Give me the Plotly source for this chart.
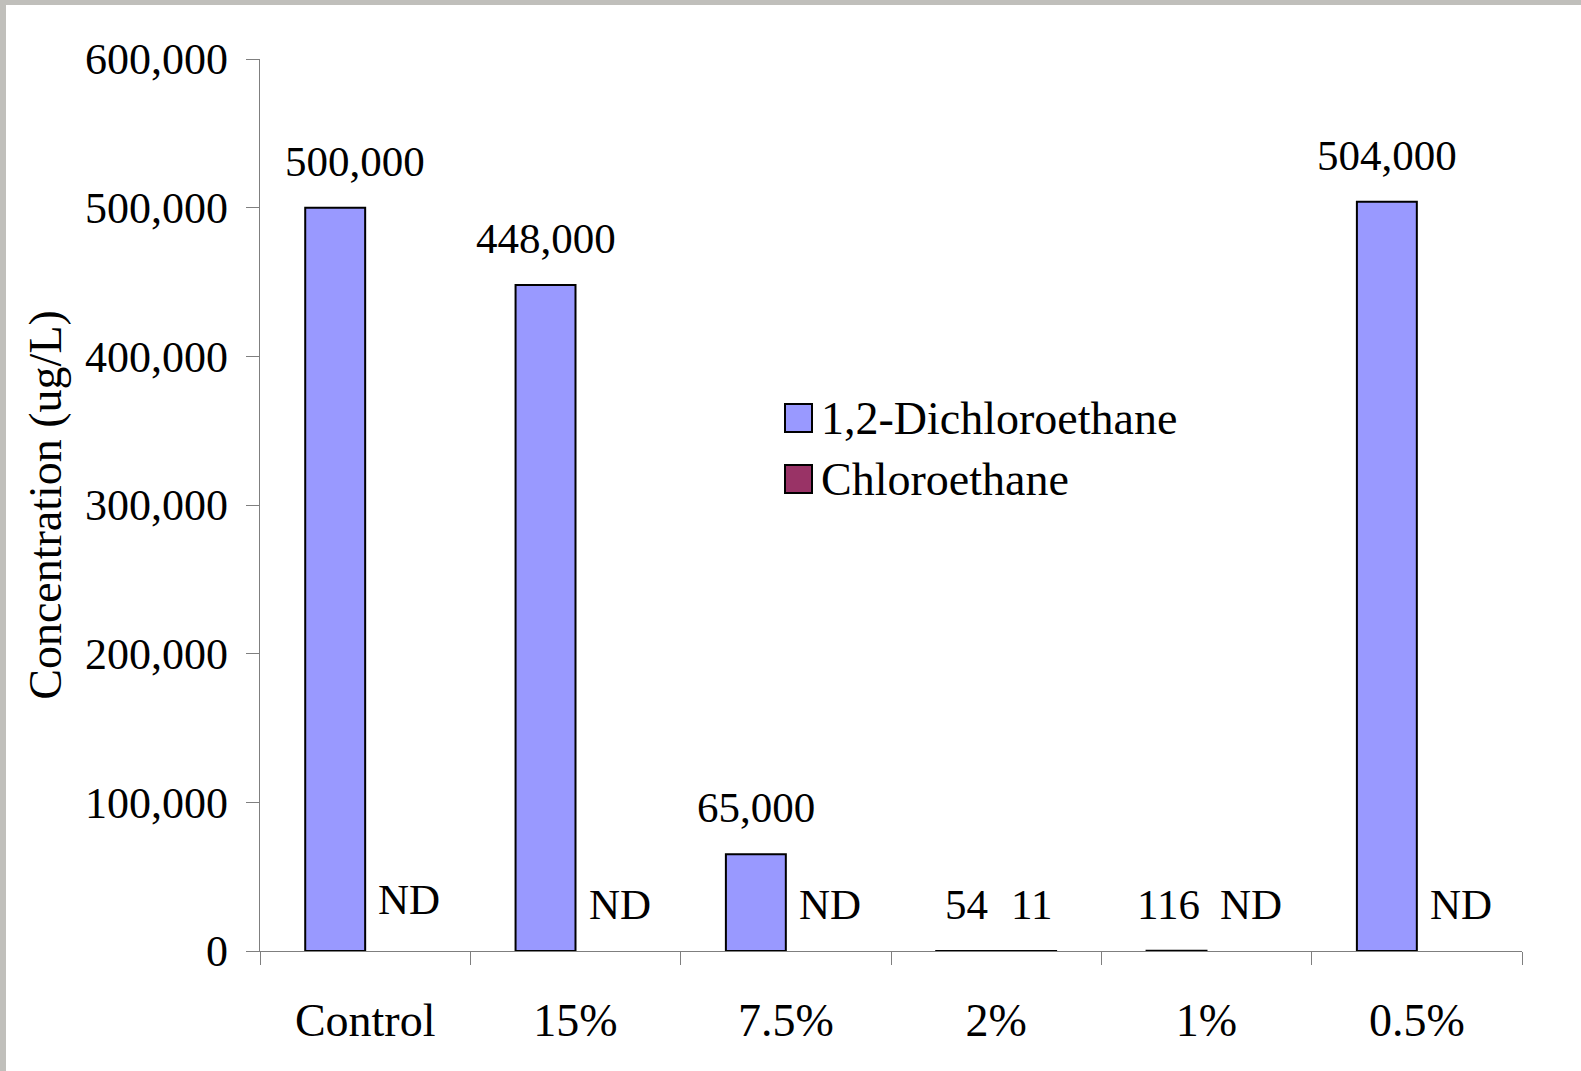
import plotly.graph_objects as go

# ---- data ----
categories = ["Control", "15%", "7.5%", "2%", "1%", "0.5%"]
series_names = ["1,2-Dichloroethane", "Chloroethane"]
dce_values = [500000, 448000, 65000, 54, 116, 504000]
ce_values = [None, None, None, 11, None, None]   # None = not detected (ND)
y_tick_values = [0, 100000, 200000, 300000, 400000, 500000, 600000]
y_tick_labels = ["0", "100,000", "200,000", "300,000", "400,000", "500,000", "600,000"]
y_title = "Concentration (ug/L)"

# ---- style ----
FONT = "Liberation Serif"
FS = 43
DCE_COLOR = "#9999FF"
CE_COLOR = "#993366"
AXIS_COLOR = "#7f7f7f"

W, H = 1581, 1071
ML, MR, MT, MB = 260, 59, 59, 120
PW, PH = W - ML - MR, H - MT - MB


def px_x(p):
    return (p - ML) / PW


def px_y(p):
    return 1 - (p - MT) / PH


fig = go.Figure()
fig.add_trace(go.Bar(
    x=categories, y=dce_values, name=series_names[0],
    marker=dict(color=DCE_COLOR, line=dict(color="black", width=2)),
    showlegend=False, hoverinfo="x+y",
))
fig.add_trace(go.Bar(
    x=categories, y=ce_values, name=series_names[1],
    marker=dict(color=CE_COLOR, line=dict(color="black", width=2)),
    showlegend=False, hoverinfo="x+y",
))

# data labels
bar_offset = 30  # half of a grouped bar's width, in px
annotations = []
for c, v in zip(categories, dce_values):
    annotations.append(dict(
        x=c, y=v, xref="x", yref="y", text=f"{v:,}", showarrow=False,
        xshift=-bar_offset + (20 if c == "Control" else 0) + (-8 if c == "1%" else 0),
        yshift=21, yanchor="bottom",
        font=dict(family=FONT, size=FS, color="black"),
    ))
for c, v in zip(categories, ce_values):
    annotations.append(dict(
        x=c, y=(v if v is not None else 0), xref="x", yref="y",
        text=(f"{v:,}" if v is not None else "ND"), showarrow=False,
        xshift=bar_offset + (14 if v is None else 5),
        yshift=21 + (5 if c == "Control" else 0), yanchor="bottom",
        font=dict(family=FONT, size=FS, color="black"),
    ))

# custom legend (large square swatches like the original)
shapes = []
legend_items = [(series_names[0], DCE_COLOR, 418), (series_names[1], CE_COLOR, 479)]
for name, col, cy in legend_items:
    shapes.append(dict(
        type="rect", xref="paper", yref="paper",
        x0=px_x(785), x1=px_x(812), y0=px_y(cy + 14), y1=px_y(cy - 14),
        fillcolor=col, line=dict(color="black", width=2),
    ))
    annotations.append(dict(
        x=px_x(819), y=px_y(cy), xref="paper", yref="paper", text=name,
        showarrow=False, xanchor="left", yanchor="middle",
        font=dict(family=FONT, size=46, color="black"),
    ))

# outer frame bands (top and left)
FRAME = "#c0bfbb"
shapes.append(dict(type="rect", xref="paper", yref="paper",
                   x0=px_x(0), x1=px_x(W), y0=px_y(5), y1=px_y(0),
                   fillcolor=FRAME, line=dict(width=0), layer="below"))
shapes.append(dict(type="rect", xref="paper", yref="paper",
                   x0=px_x(0), x1=px_x(6), y0=px_y(H), y1=px_y(0),
                   fillcolor=FRAME, line=dict(width=0), layer="below"))

fig.update_layout(
    width=W, height=H,
    margin=dict(l=ML, r=MR, t=MT, b=MB, autoexpand=False),
    paper_bgcolor="white", plot_bgcolor="white",
    barmode="group", bargap=0.43, bargroupgap=0,
    font=dict(family=FONT, size=FS, color="black"),
    showlegend=False,
    annotations=annotations, shapes=shapes,
)
fig.update_xaxes(
    type="category", showline=True, linecolor=AXIS_COLOR, linewidth=1.3,
    ticks="outside", tickson="boundaries", ticklen=13, tickwidth=1.3, tickcolor=AXIS_COLOR,
    showgrid=False, zeroline=False, ticklabelstandoff=29,
    tickfont=dict(family=FONT, size=46, color="black"), automargin=False,
)
fig.update_yaxes(
    range=[0, 600000], tickvals=y_tick_values, ticktext=y_tick_labels,
    showline=True, linecolor=AXIS_COLOR, linewidth=1.3,
    ticks="outside", ticklen=13, tickwidth=1.3, tickcolor=AXIS_COLOR,
    showgrid=False, zeroline=False, ticklabelstandoff=9,
    tickfont=dict(family=FONT, size=44, color="black"),
    title=dict(text=y_title, font=dict(family=FONT, size=46, color="black"), standoff=8),
    automargin=False,
)

fig.write_html("out.html")
